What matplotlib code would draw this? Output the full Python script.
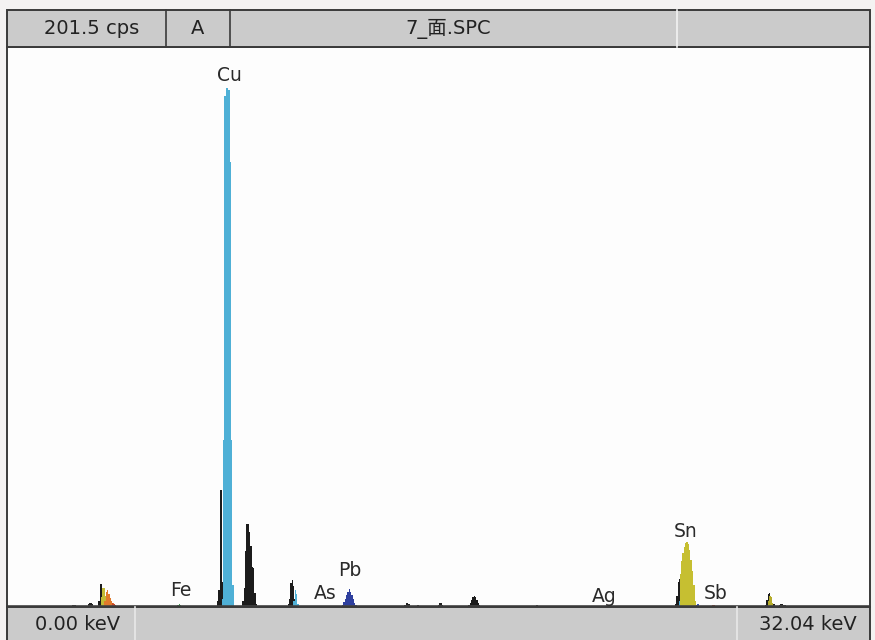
import matplotlib
matplotlib.use("Agg")
import matplotlib.pyplot as plt
import numpy as np
from matplotlib.lines import Line2D
from matplotlib.patches import Rectangle

# spectrum range
E_MAX = 32.04  # keV
CPS_MAX = 201.5
CH = 0.05  # keV per channel

# header / footer texts
HEADER = ["201.5 cps", "A", "7_面.SPC", ""]
FOOTER = ["0.00 keV", "", "32.04 keV"]

# peaks: start energy (keV) and counts per channel (cps)
LOW_NOISE_1 = (0.66, [0.4, 0.5, 0.4])
LOW_NOISE_2 = (2.43, [0.6, 0.8, 0.6])
LOW_NOISE_3 = (3.02, [1.0, 1.6, 1.6, 1.0])
SN_L_BLACK = (3.42, [2.0, 8.3, 8.3, 3.0])
SN_L_YELLOW = (3.50, [3.5, 6.8, 6.8, 4.0, 1.5])
SB_L_ORANGE = (3.64, [2.0, 5.5, 6.1, 4.5, 3.2, 2.2, 1.5])
SB_L_RED = (3.92, [1.6, 1.2, 0.8, 0.5])
FE_KA = (6.30, [0.4, 0.8, 0.9, 0.8, 0.4])
CU_BLACK = (7.82, [2.0, 6.0, 42.0, 42.0, 9.0])
CU_KA = (7.99, [3.0, 60.0, 184.0, 186.7, 186.7, 186.0, 160.0, 60.0, 8.0])
CU_KB = (8.76, [2.0, 7.0, 20.0, 29.9, 29.9, 27.0, 22.0, 14.4, 14.0, 5.0, 1.0])
AS_BLACK = (10.44, [1.0, 3.0, 8.5, 9.7, 7.5, 3.0, 1.0])
AS_CYAN = (10.65, [2.0, 6.1, 4.5, 1.0])
PB_LB = (12.46, [0.8, 1.8, 3.0, 4.2, 5.4, 6.5, 5.5, 4.3, 3.0, 1.6, 0.6])
BUMP_1 = (14.78, [0.6, 1.3, 1.4, 1.0, 0.4])
BUMP_2 = (15.21, [0.5, 0.8, 0.5])
BUMP_3 = (16.03, [0.6, 1.3, 1.4, 0.7])
BUMP_4 = (17.15, [0.6, 1.5, 2.6, 3.6, 4.0, 3.6, 2.6, 1.5, 0.6])
BUMP_5 = (19.60, [0.4, 0.7, 0.7, 0.4])
SN_BLACK = (24.82, [1.0, 4.0, 9.0, 10.0, 5.0])
SN_CYAN = (24.96, [2.0, 11.9, 4.0])
SN_KA = (25.00, [12.0, 16.5, 19.5, 21.5, 23.0, 23.5, 22.5, 20.5, 17.0, 13.0, 8.0, 2.0])
SN_TAIL = (25.60, [0.6, 0.9, 0.5])
SB_KA = (26.16, [0.5, 0.8, 0.8, 0.5])
SN_KB_BLACK = (28.17, [0.8, 2.5, 4.5, 5.0, 3.0, 1.5, 1.0])
SN_KB_YELLOW = (28.28, [2.0, 4.0, 3.5, 1.5])
TAIL_BLACK = (28.68, [0.8, 1.0, 1.0, 0.8, 0.6])

PEAKS = [
    (LOW_NOISE_1, "#222222"),
    (LOW_NOISE_2, "#222222"),
    (LOW_NOISE_3, "#222222"),
    (SN_L_BLACK, "#1c1c1c"),
    (SN_L_YELLOW, "#c3bb35"),
    (SB_L_ORANGE, "#e07a2c"),
    (SB_L_RED, "#c8452e"),
    (FE_KA, "#3d9a4c"),
    (CU_BLACK, "#1c1c1c"),
    (CU_KA, "#4fb0d6"),
    (CU_KB, "#1c1c1c"),
    (AS_BLACK, "#1c1c1c"),
    (AS_CYAN, "#4fb0d6"),
    (PB_LB, "#2e3f9e"),
    (BUMP_1, "#222222"),
    (BUMP_2, "#222222"),
    (BUMP_3, "#222222"),
    (BUMP_4, "#1c1c1c"),
    (BUMP_5, "#333333"),
    (SN_BLACK, "#1c1c1c"),
    (SN_CYAN, "#4fb0d6"),
    (SN_KA, "#c6bf31"),
    (SN_TAIL, "#3a55b0"),
    (SB_KA, "#c8452e"),
    (SN_KB_BLACK, "#1c1c1c"),
    (SN_KB_YELLOW, "#b5ac2a"),
    (TAIL_BLACK, "#222222"),
]

# element labels: text, energy (keV), height (cps)
LABELS = [
    ("Cu", 8.24, 191.4),
    ("Fe", 6.46, 5.8),
    ("As", 11.81, 4.7),
    ("Pb", 12.73, 13.0),
    ("Ag", 22.16, 3.7),
    ("Sn", 25.21, 27.3),
    ("Sb", 26.32, 5.0),
]

W, H = 875, 640
FRAME = "#3a3a3a"
BAR = "#cbcbcb"


def fx(px):
    return px / W


def fy(py):
    return 1 - py / H


fig = plt.figure(figsize=(W / 100, H / 100), dpi=100)
fig.patch.set_facecolor("#f4f2f2")

# header bar
fig.add_artist(Rectangle((fx(7), fy(47)), fx(870) - fx(7), (47 - 10) / H,
                         facecolor=BAR, edgecolor=FRAME, lw=1.4,
                         transform=fig.transFigure))
for xp, col in [(166, FRAME), (230, FRAME), (677, "#f2f2f2")]:
    fig.add_artist(Line2D([fx(xp), fx(xp)], [fy(47), fy(10)], color=col,
                          lw=1.2, transform=fig.transFigure))
header_x = [92, 198, 448, 773]
for txt, xp in zip(HEADER, header_x):
    fig.text(fx(xp), fy(29), txt, ha="center", va="center", fontsize=14,
             color="#222222", family=["DejaVu Sans", "Noto Sans CJK SC"])

# footer bar
fig.add_artist(Rectangle((fx(7), fy(645)), fx(870) - fx(7), (645 - 607) / H,
                         facecolor=BAR, edgecolor=FRAME, lw=1.4,
                         transform=fig.transFigure))
for xp in [135, 737]:
    fig.add_artist(Line2D([fx(xp), fx(xp)], [fy(640), fy(607)], color="#e8e8e8",
                          lw=1.2, transform=fig.transFigure))
footer_x = [78, 436, 808]
for txt, xp in zip(FOOTER, footer_x):
    fig.text(fx(xp), fy(624), txt, ha="center", va="center", fontsize=14,
             color="#222222")

# spectrum
ax = fig.add_axes([fx(7), fy(607), fx(870) - fx(7), (607 - 47) / H])
ax.set_facecolor("#fdfdfd")
ax.set_xlim(0, E_MAX)
ax.set_ylim(0, CPS_MAX)
ax.set_xticks([])
ax.set_yticks([])
for sp in ax.spines.values():
    sp.set_color(FRAME)
    sp.set_linewidth(1.4)

for (start, counts), color in PEAKS:
    vals = np.concatenate([[0.0], counts, [0.0]])
    xs = start + CH * (np.arange(len(vals)) - 1)
    ax.fill_between(xs, 0, vals, step="mid", color=color, lw=0)

ax.axhline(0.3, color="#444444", lw=1.2)

for txt, e, c in LABELS:
    ax.text(e, c, txt, ha="center", va="center", fontsize=13.5, color="#2a2a2a")

fig.savefig("out.png", dpi=100, facecolor=fig.get_facecolor())
